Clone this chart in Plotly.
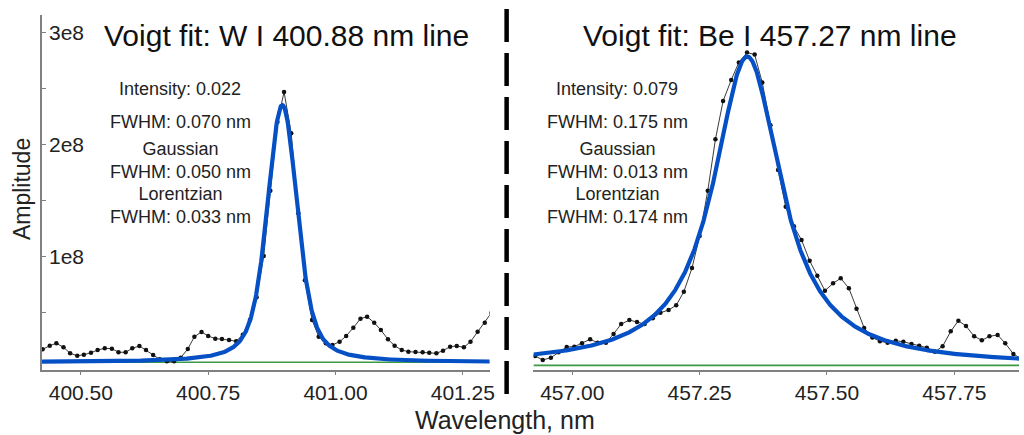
import numpy as np
import plotly.graph_objects as go

# ---------------- data ----------------
# Left panel: W I 400.88 nm line (wavelength nm, amplitude in units of 1e8)
W_wavelength = [400.425, 400.439, 400.452, 400.466, 400.479, 400.493, 400.506, 400.520,
                400.533, 400.547, 400.561, 400.574, 400.588, 400.601, 400.615, 400.628,
                400.642, 400.655, 400.669, 400.683, 400.696, 400.710, 400.723, 400.737,
                400.750, 400.764, 400.777, 400.791, 400.805, 400.818, 400.832, 400.845,
                400.859, 400.872, 400.886, 400.899, 400.913, 400.927, 400.940, 400.954,
                400.967, 400.981, 400.994, 401.008, 401.021, 401.035, 401.049, 401.062,
                401.076, 401.089, 401.103, 401.116, 401.130, 401.143, 401.157, 401.171,
                401.184, 401.198, 401.211, 401.225, 401.238, 401.252, 401.265, 401.279,
                401.293, 401.306]
W_amp_e8 = [0.175, 0.207, 0.229, 0.193, 0.140, 0.118, 0.127, 0.145,
            0.169, 0.184, 0.181, 0.149, 0.149, 0.184, 0.205, 0.169,
            0.125, 0.086, 0.068, 0.070, 0.100, 0.178, 0.288, 0.330,
            0.294, 0.270, 0.267, 0.258, 0.247, 0.305, 0.436, 0.638,
            1.006, 1.588, 2.200, 2.467, 2.100, 1.386, 0.790, 0.436,
            0.288, 0.229, 0.214, 0.243, 0.294, 0.368, 0.448, 0.466,
            0.412, 0.347, 0.264, 0.207, 0.169, 0.154, 0.151, 0.149,
            0.145, 0.140, 0.163, 0.199, 0.205, 0.193, 0.243, 0.332,
            0.412, 0.500]

# Right panel: Be I 457.27 nm line
Be_wavelength = [456.927, 456.942, 456.958, 456.973, 456.989, 457.004, 457.019, 457.035,
                 457.050, 457.066, 457.081, 457.096, 457.112, 457.127, 457.142, 457.158,
                 457.173, 457.189, 457.204, 457.219, 457.235, 457.250, 457.266, 457.281,
                 457.296, 457.312, 457.327, 457.343, 457.358, 457.373, 457.389, 457.404,
                 457.419, 457.435, 457.450, 457.466, 457.481, 457.496, 457.512, 457.527,
                 457.543, 457.558, 457.573, 457.589, 457.604, 457.619, 457.635, 457.650,
                 457.666, 457.681, 457.696, 457.712, 457.727, 457.743, 457.758, 457.773,
                 457.789, 457.804, 457.819, 457.835, 457.850, 457.866, 457.881]
Be_amp_e8 = [0.116, 0.080, 0.101, 0.150, 0.196, 0.199, 0.229, 0.264,
             0.234, 0.234, 0.312, 0.400, 0.436, 0.418, 0.400, 0.451,
             0.501, 0.525, 0.567, 0.688, 0.899, 1.184, 1.588, 2.045,
             2.386, 2.573, 2.730, 2.817, 2.800, 2.550, 2.170, 1.772,
             1.445, 1.270, 1.149, 0.964, 0.830, 0.697, 0.763, 0.808,
             0.719, 0.536, 0.366, 0.280, 0.248, 0.234, 0.252, 0.242,
             0.222, 0.206, 0.190, 0.154, 0.202, 0.335, 0.430, 0.383,
             0.291, 0.255, 0.291, 0.303, 0.229, 0.134, 0.090]

# Voigt fit parameters (as drawn): center nm, amplitude (1e8), Gaussian FWHM, Lorentzian FWHM, baseline (1e8)
W_fit = dict(center=400.8955, amp=2.29, fg=0.050, fl=0.033, base=0.060)
Be_fit = dict(center=457.3435, amp=2.75, fg=0.013, fl=0.160, base=0.032)

W_title = "Voigt fit: W I 400.88 nm line"
Be_title = "Voigt fit: Be I 457.27 nm line"
W_stats = ["Intensity: 0.022", "FWHM: 0.070 nm", "Gaussian<br>FWHM: 0.050 nm",
           "Lorentzian<br>FWHM: 0.033 nm"]
Be_stats = ["Intensity: 0.079", "FWHM: 0.175 nm", "Gaussian<br>FWHM: 0.013 nm",
            "Lorentzian<br>FWHM: 0.174 nm"]

W_xticks = [400.50, 400.75, 401.00, 401.25]
Be_xticks = [457.00, 457.25, 457.50, 457.75]
y_ticks_e8 = [1, 2, 3]
y_minor_e8 = [0.5, 1.5, 2.5]

W_xrange = [400.4238, 401.3027]
Be_xrange = [456.9238, 457.877]
y_range_e8 = [-0.009, 3.152]

# ---------------- helpers ----------------
FIG_W, FIG_H = 1024, 435
ML, MR, MT, MB = 42, 0, 15, 65
PW, PH = FIG_W - ML - MR, FIG_H - MT - MB


def px_x(px):
    return (px - ML) / PW


def px_y(py):
    return (FIG_H - MB - py) / PH


def voigt(x, center, fg, fl):
    sigma = fg / (2 * np.sqrt(2 * np.log(2)))
    gamma = fl / 2
    t = np.linspace(-6 * sigma, 6 * sigma, 1201)
    g = np.exp(-t ** 2 / (2 * sigma ** 2))

    def conv(xx):
        d = xx[:, None] - center - t[None, :]
        return (g[None, :] * gamma / (d ** 2 + gamma ** 2)).sum(axis=1)

    return conv(np.asarray(x, float)) / conv(np.array([center]))[0]


FONT = "Arial, Liberation Sans, sans-serif"
BLUE = "#0650c6"
GREEN = "#3f9a46"
AXC = "#808080"

fig = go.Figure()

panels = [
    (W_wavelength, W_amp_e8, W_fit, W_xrange, "x", "y"),
    (Be_wavelength, Be_amp_e8, Be_fit, Be_xrange, "x2", "y2"),
]
for wl, amp, fit, xr, xa, ya in panels:
    # baseline (green)
    fig.add_trace(go.Scatter(x=xr, y=[fit["base"] * 1e8] * 2, mode="lines",
                             line=dict(color=GREEN, width=1.6), xaxis=xa, yaxis=ya,
                             hoverinfo="skip"))
    # measured spectrum
    fig.add_trace(go.Scatter(x=wl, y=np.array(amp) * 1e8, mode="lines+markers",
                             line=dict(color="#3a3a3a", width=1),
                             marker=dict(color="#111111", size=4.5),
                             xaxis=xa, yaxis=ya))
    # Voigt fit
    xf = np.linspace(xr[0], xr[1], 900)
    yf = (fit["base"] + fit["amp"] * voigt(xf, fit["center"], fit["fg"], fit["fl"])) * 1e8
    fig.add_trace(go.Scatter(x=xf, y=yf, mode="lines",
                             line=dict(color=BLUE, width=4.2), xaxis=xa, yaxis=ya))

common_x = dict(showgrid=False, zeroline=False, showline=True, linecolor=AXC, linewidth=1.5,
                ticks="outside", ticklen=3, tickcolor=AXC, tickwidth=1,
                tickfont=dict(family=FONT, size=21, color="#222222"))

fig.update_layout(
    width=FIG_W, height=FIG_H,
    margin=dict(l=ML, r=MR, t=MT, b=MB),
    paper_bgcolor="white", plot_bgcolor="white",
    showlegend=False,
    xaxis=dict(domain=[0, px_x(492)], range=W_xrange, anchor="y",
               tickvals=W_xticks, ticktext=[f"{v:.2f}" for v in W_xticks], **common_x),
    xaxis2=dict(domain=[px_x(536), 1], range=Be_xrange, anchor="y2",
                tickvals=Be_xticks, ticktext=[f"{v:.2f}" for v in Be_xticks], **common_x),
    yaxis=dict(domain=[0, 1], range=[v * 1e8 for v in y_range_e8], anchor="x",
               showgrid=False, zeroline=False, showline=True, linecolor=AXC, linewidth=1.5,
               tickvals=[v * 1e8 for v in y_ticks_e8], showticklabels=False,
               ticks="inside", ticklen=4, tickcolor=AXC,
               minor=dict(tickvals=[v * 1e8 for v in y_minor_e8], ticks="inside",
                          ticklen=4, tickcolor=AXC)),
    yaxis2=dict(domain=[0, 1], range=[v * 1e8 for v in y_range_e8], anchor="x2",
                showgrid=False, zeroline=False, showline=False, showticklabels=False,
                ticks=""),
)

ann = []
# titles
ann.append(dict(text=W_title, x=px_x(288), y=px_y(35)))
ann.append(dict(text=Be_title, x=px_x(774), y=px_y(35)))
for a in ann:
    a.update(xref="paper", yref="paper", showarrow=False, xanchor="center", yanchor="middle",
             font=dict(family=FONT, size=30, color="#111111"))

# y tick labels drawn inside the plot, placed on the y axis scale
for v in y_ticks_e8:
    ann.append(dict(text=f"{v}e8", x=px_x(47), y=v * 1e8, xref="paper", yref="y",
                    showarrow=False, xanchor="left", yanchor="middle",
                    font=dict(family=FONT, size=21, color="#222222")))

stat_y = [89, 122, 160, 206]
for texts, cx in ((W_stats, 181), (Be_stats, 620)):
    for t, py in zip(texts, stat_y):
        ann.append(dict(text=t, x=px_x(cx), y=px_y(py), xref="paper", yref="paper",
                        showarrow=False, xanchor="center", yanchor="middle",
                        font=dict(family=FONT, size=18, color="#222222")))

ann.append(dict(text="Amplitude", x=px_x(22), y=px_y(189), xref="paper", yref="paper",
                showarrow=False, textangle=-90, xanchor="center", yanchor="middle",
                font=dict(family=FONT, size=23, color="#222222")))
ann.append(dict(text="Wavelength, nm", x=px_x(507), y=px_y(420), xref="paper", yref="paper",
                showarrow=False, xanchor="center", yanchor="middle",
                font=dict(family=FONT, size=25, color="#222222")))
fig.update_layout(annotations=ann)

# dashed separator between the two panels
fig.add_shape(type="line", xref="paper", yref="paper",
              x0=px_x(509), x1=px_x(509), y0=px_y(9), y1=px_y(403),
              line=dict(color="black", width=4.5, dash="33px,11px"))

fig.write_html("out.html")
